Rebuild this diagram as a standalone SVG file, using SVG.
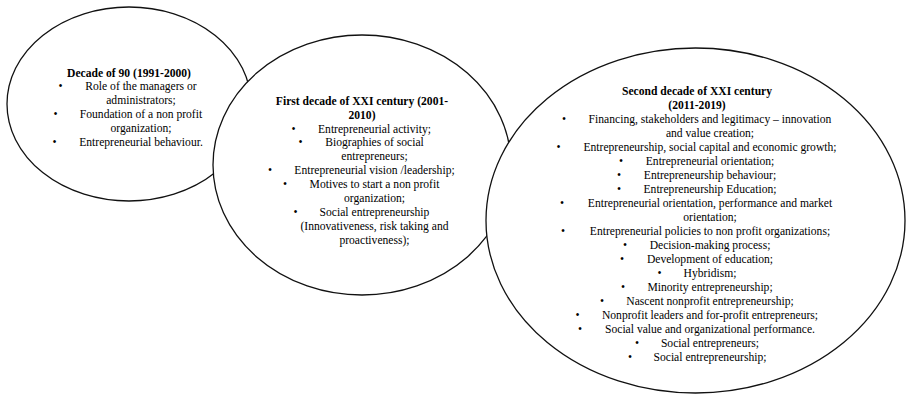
<svg xmlns="http://www.w3.org/2000/svg" width="906" height="395" viewBox="0 0 906 395">
<style>
.sh{fill:#fff;stroke:#111;stroke-width:1.3}
.t{font-family:"Liberation Serif","Times New Roman",serif;font-size:11.6px;fill:#000}
.c{text-anchor:middle}
.b{font-weight:bold}
</style>
<rect width="906" height="395" fill="#fff"/>
<g id="node-1990s">
<ellipse class="sh" cx="129" cy="104" rx="122" ry="97"/>
<text class="t b c" x="129" y="76.5">Decade of 90 (1991-2000)</text>
<text class="t c" x="60.5" y="90.4">•</text>
<text class="t c" x="141" y="90.4">Role of the managers or</text>
<text class="t c" x="141" y="104.3">administrators;</text>
<text class="t c" x="55.5" y="118.2">•</text>
<text class="t c" x="141" y="118.2">Foundation of a non profit</text>
<text class="t c" x="141" y="132.1">organization;</text>
<text class="t c" x="54.5" y="146">•</text>
<text class="t c" x="141" y="146">Entrepreneurial behaviour.</text>
</g>
<g id="node-2000s">
<ellipse class="sh" cx="362" cy="165" rx="149" ry="130"/>
<text class="t b c" x="362" y="104.6">First decade of XXI century (2001-</text>
<text class="t b c" x="362" y="118.5">2010)</text>
<text class="t c" x="293.5" y="132.5">•</text>
<text class="t c" x="374.5" y="132.5">Entrepreneurial activity;</text>
<text class="t c" x="300.5" y="146.4">•</text>
<text class="t c" x="374.5" y="146.4">Biographies of social</text>
<text class="t c" x="374.5" y="160.3">entrepreneurs;</text>
<text class="t c" x="270" y="174.2">•</text>
<text class="t c" x="374.5" y="174.2">Entrepreneurial vision /leadership;</text>
<text class="t c" x="285" y="188.2">•</text>
<text class="t c" x="374.5" y="188.2">Motives to start a non profit</text>
<text class="t c" x="374.5" y="202.1">organization;</text>
<text class="t c" x="295.5" y="216">•</text>
<text class="t c" x="374.5" y="216">Social entrepreneurship</text>
<text class="t c" x="374.5" y="229.9">(Innovativeness, risk taking and</text>
<text class="t c" x="374.5" y="243.9">proactiveness);</text>
</g>
<g id="node-2010s">
<ellipse class="sh" cx="695.5" cy="220.5" rx="209.5" ry="172.5"/>
<text class="t b c" x="697" y="94.6">Second decade of XXI century</text>
<text class="t b c" x="697" y="108.6">(2011-2019)</text>
<text class="t c" x="564" y="122.6">•</text>
<text class="t c" x="710" y="122.6">Financing, stakeholders and legitimacy – innovation</text>
<text class="t c" x="710" y="136.6">and value creation;</text>
<text class="t c" x="558.5" y="150.6">•</text>
<text class="t c" x="710" y="150.6">Entrepreneurship, social capital and economic growth;</text>
<text class="t c" x="621" y="164.6">•</text>
<text class="t c" x="710" y="164.6">Entrepreneurial orientation;</text>
<text class="t c" x="619" y="178.6">•</text>
<text class="t c" x="710" y="178.6">Entrepreneurship behaviour;</text>
<text class="t c" x="619" y="192.6">•</text>
<text class="t c" x="710" y="192.6">Entrepreneurship Education;</text>
<text class="t c" x="562" y="206.6">•</text>
<text class="t c" x="710" y="206.6">Entrepreneurial orientation, performance and market</text>
<text class="t c" x="710" y="220.6">orientation;</text>
<text class="t c" x="563" y="234.6">•</text>
<text class="t c" x="710" y="234.6">Entrepreneurial policies to non profit organizations;</text>
<text class="t c" x="625" y="248.6">•</text>
<text class="t c" x="710" y="248.6">Decision-making process;</text>
<text class="t c" x="622" y="262.6">•</text>
<text class="t c" x="710" y="262.6">Development of education;</text>
<text class="t c" x="659.5" y="276.6">•</text>
<text class="t c" x="710" y="276.6">Hybridism;</text>
<text class="t c" x="623" y="290.6">•</text>
<text class="t c" x="710" y="290.6">Minority entrepreneurship;</text>
<text class="t c" x="602" y="304.6">•</text>
<text class="t c" x="710" y="304.6">Nascent nonprofit entrepreneurship;</text>
<text class="t c" x="577.5" y="318.6">•</text>
<text class="t c" x="710" y="318.6">Nonprofit leaders and for-profit entrepreneurs;</text>
<text class="t c" x="580" y="332.6">•</text>
<text class="t c" x="710" y="332.6">Social value and organizational performance.</text>
<text class="t c" x="637" y="346.6">•</text>
<text class="t c" x="710" y="346.6">Social entrepreneurs;</text>
<text class="t c" x="630" y="360.6">•</text>
<text class="t c" x="710" y="360.6">Social entrepreneurship;</text>
</g>
<g id="connectors"></g>
</svg>
